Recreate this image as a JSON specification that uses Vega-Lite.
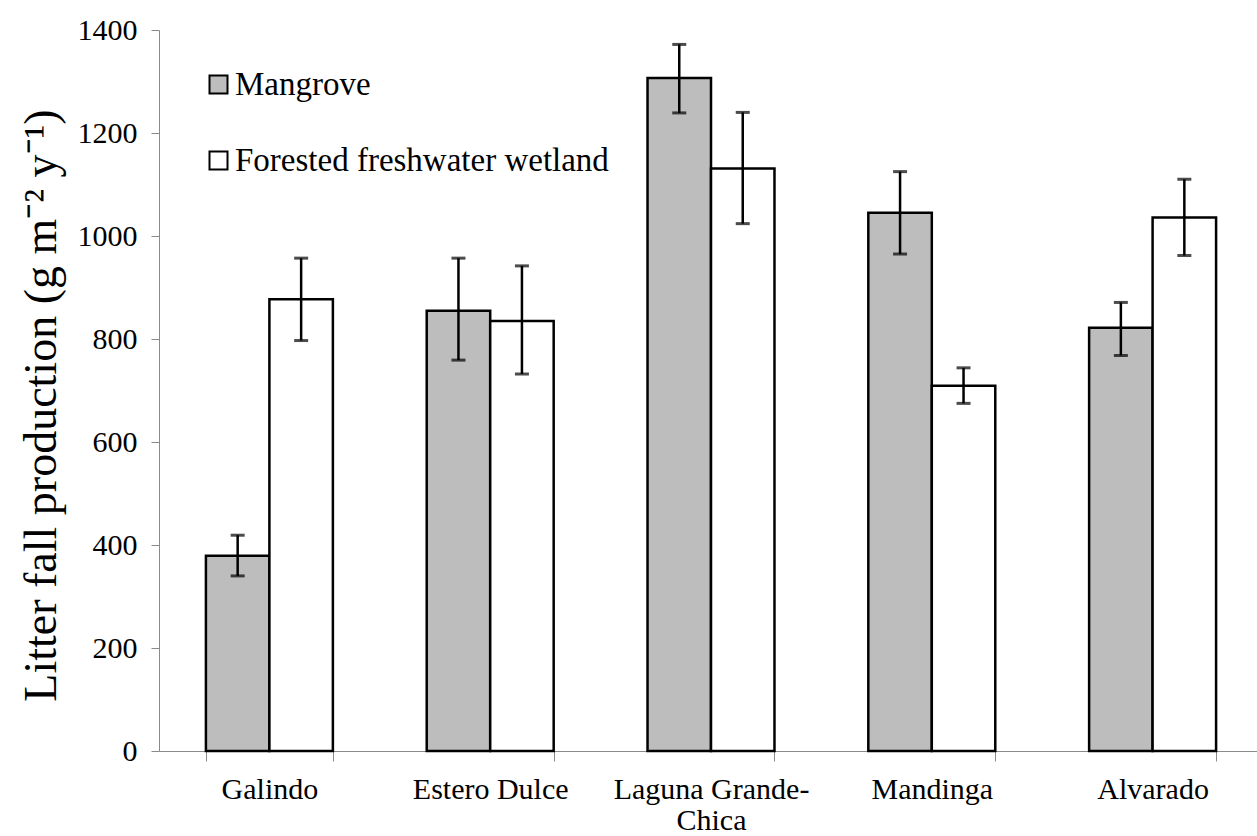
{
  "$schema": "https://vega.github.io/schema/vega-lite/v6.json",
  "autosize": {"type": "none"},
  "width": 1098,
  "height": 721,
  "padding": {"left": 159, "top": 30, "right": 0, "bottom": 85},
  "background": "white",
  "config": {
    "view": {"stroke": null},
    "font": "Liberation Serif"
  },
  "data": {
    "values": [
      {"site": "Galindo", "type": "Mangrove", "value": 379, "lo": 340, "hi": 419},
      {"site": "Galindo", "type": "Forested freshwater wetland", "value": 877, "lo": 797, "hi": 957},
      {"site": "Estero Dulce", "type": "Mangrove", "value": 855, "lo": 759, "hi": 957},
      {"site": "Estero Dulce", "type": "Forested freshwater wetland", "value": 835, "lo": 732, "hi": 942},
      {"site": "Laguna Grande-Chica", "type": "Mangrove", "value": 1307, "lo": 1239, "hi": 1372},
      {"site": "Laguna Grande-Chica", "type": "Forested freshwater wetland", "value": 1131, "lo": 1024, "hi": 1240},
      {"site": "Mandinga", "type": "Mangrove", "value": 1045, "lo": 965, "hi": 1125},
      {"site": "Mandinga", "type": "Forested freshwater wetland", "value": 709, "lo": 675, "hi": 744},
      {"site": "Alvarado", "type": "Mangrove", "value": 822, "lo": 768, "hi": 871},
      {"site": "Alvarado", "type": "Forested freshwater wetland", "value": 1036, "lo": 962, "hi": 1110}
    ]
  },
  "encoding": {
    "x": {
      "field": "site",
      "type": "nominal",
      "sort": null,
      "scale": {"range": [0, 1104], "paddingInner": 0.425, "paddingOuter": 0.2125},
      "axis": {
        "title": null,
        "labelAngle": 0,
        "tickBand": "extent",
        "tickSize": 10,
        "tickColor": "#8a8a8a",
        "domainColor": "#8a8a8a",
        "labelFont": "Liberation Serif",
        "labelFontSize": 30,
        "labelColor": "black",
        "labelPadding": 13,
        "labelLimit": 0,
        "labelLineHeight": 31,
        "labelExpr": "datum.value == 'Laguna Grande-Chica' ? ['Laguna Grande-', 'Chica'] : datum.value"
      }
    },
    "xOffset": {
      "field": "type",
      "type": "nominal",
      "scale": {"domain": ["Mangrove", "Forested freshwater wetland"], "paddingInner": 0, "paddingOuter": 0}
    }
  },
  "layer": [
    {
      "mark": {"type": "bar", "stroke": "black", "strokeWidth": 2.5},
      "encoding": {
        "y": {
          "field": "value",
          "type": "quantitative",
          "scale": {"domain": [0, 1400], "nice": false},
          "axis": {
            "values": [0, 200, 400, 600, 800, 1000, 1200, 1400],
            "format": "d",
            "grid": false,
            "title": "Litter fall production (g m⁻² y⁻¹)",
            "titleFont": "Liberation Serif",
            "titleFontSize": 46,
            "titleFontWeight": "normal",
            "titleColor": "black",
            "titlePadding": 12,
            "titleY": 375,
            "tickSize": 8,
            "tickColor": "#8a8a8a",
            "domainColor": "#8a8a8a",
            "labelFont": "Liberation Serif",
            "labelFontSize": 30,
            "labelColor": "black",
            "labelPadding": 14
          }
        },
        "fill": {
          "field": "type",
          "type": "nominal",
          "scale": {"domain": ["Mangrove", "Forested freshwater wetland"], "range": ["#bdbdbd", "#ffffff"]},
          "legend": {
            "title": null,
            "orient": "none",
            "legendX": 43,
            "legendY": 38,
            "direction": "vertical",
            "symbolType": "square",
            "symbolSize": 324,
            "symbolStrokeColor": "black",
            "symbolStrokeWidth": 2,
            "symbolOpacity": 1,
            "labelFont": "Liberation Serif",
            "labelFontSize": 33,
            "labelColor": "black",
            "labelOffset": 0,
            "labelLimit": 600,
            "rowPadding": 42,
            "padding": 0
          }
        }
      }
    },
    {
      "mark": {"type": "rule", "color": "black", "strokeWidth": 2.5},
      "encoding": {
        "y": {"field": "lo", "type": "quantitative"},
        "y2": {"field": "hi"}
      }
    },
    {
      "mark": {"type": "tick", "color": "black", "thickness": 3, "size": 14, "orient": "horizontal"},
      "encoding": {
        "y": {"field": "lo", "type": "quantitative"}
      }
    },
    {
      "mark": {"type": "tick", "color": "black", "thickness": 3, "size": 14, "orient": "horizontal"},
      "encoding": {
        "y": {"field": "hi", "type": "quantitative"}
      }
    }
  ]
}
